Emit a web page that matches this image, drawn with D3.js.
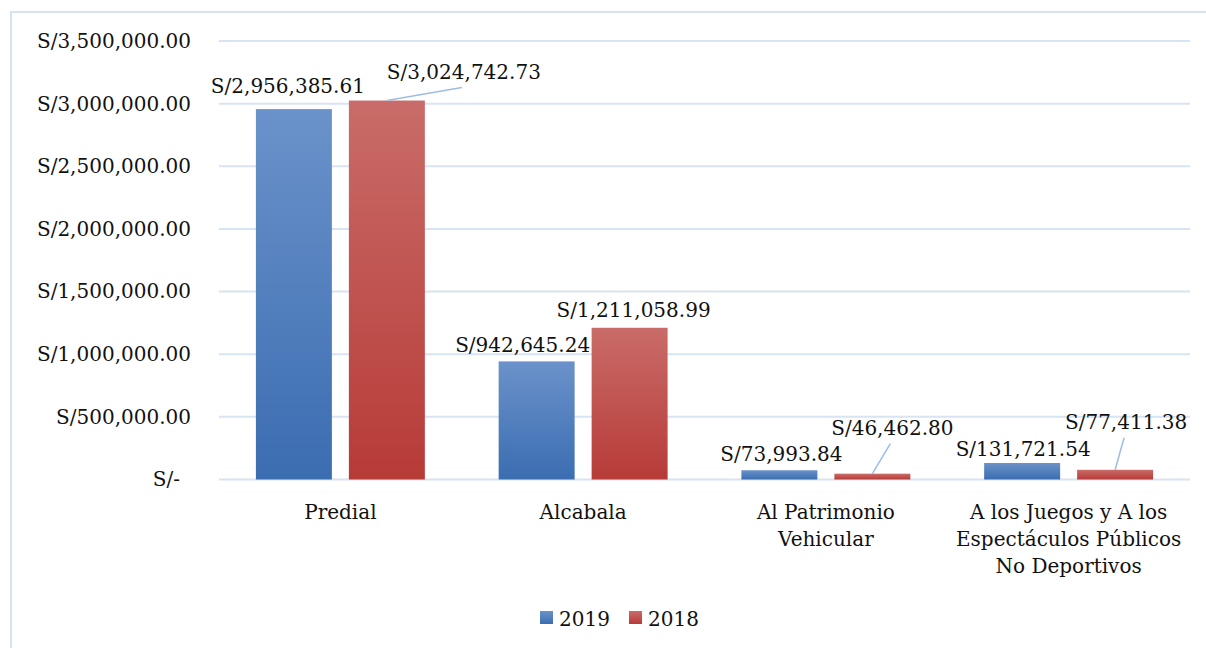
<!DOCTYPE html>
<html>
<head>
<meta charset="utf-8">
<script src="https://cdn.jsdelivr.net/npm/d3@7"></script>
<style>
  body { margin: 0; background: #fff; }
  svg text { font-family: "DejaVu Serif", serif; fill: #111; }
</style>
</head>
<body>
<div id="chart"></div>
<script>
const categories = ['Predial', 'Alcabala', 'Al Patrimonio Vehicular', 'A los Juegos y A los Espectáculos Públicos No Deportivos'];
const categoryLines = [['Predial'], ['Alcabala'], ['Al Patrimonio', 'Vehicular'], ['A los Juegos y A los', 'Espectáculos Públicos', 'No Deportivos']];
const seriesNames = ['2019', '2018'];
const values2019 = [2956385.61, 942645.24, 73993.84, 131721.54];
const values2018 = [3024742.73, 1211058.99, 46462.80, 77411.38];
const yTicks = [0, 500000, 1000000, 1500000, 2000000, 2500000, 3000000, 3500000];

// label nudges (dx, dy) and leader lines, as Excel placed them
const labelNudge = {
    '2019': [[-6, -8], [-14, -1.5], [2, -1], [1, 1]],
    '2018': [[77, -14], [4, -3], [20, -31], [11, -33]]
};
const leader = { '2019': [false, false, false, false], '2018': [true, false, true, true] };

const colors = { '2019': ['#6b92ca', '#3b6db1'], '2018': ['#c96c69', '#b73b37'] };

const W = 1206, H = 648;
const margin = { top: 41, left: 219, right: 16, bottom: 168 };

const svg = d3.select('#chart').append('svg').attr('width', W).attr('height', H);

// outer chart border (only top and left are in frame)
svg.append('rect')
    .attr('x', 11).attr('y', 12).attr('width', 1300).attr('height', 800)
    .attr('fill', 'none').attr('stroke', '#d6e2f1').attr('stroke-width', 2);

const defs = svg.append('defs');
seriesNames.forEach(s => {
    const g = defs.append('linearGradient').attr('id', 'grad' + s)
        .attr('x1', 0).attr('y1', 0).attr('x2', 0).attr('y2', 1);
    g.append('stop').attr('offset', '0%').attr('stop-color', colors[s][0]);
    g.append('stop').attr('offset', '100%').attr('stop-color', colors[s][1]);
});

const x0 = d3.scaleBand().domain(categories).range([margin.left, W - margin.right]).padding(0);
const barW = x0.bandwidth() * 0.313;
const gap = x0.bandwidth() * 0.07;
const x1 = d3.scaleOrdinal().domain(seriesNames).range([-gap / 2 - barW, gap / 2]);

const y = d3.scaleLinear().domain([0, 3500000]).range([H - margin.bottom - 0.5, margin.top]);

const fmt = v => v === 0 ? 'S/-' : 'S/' + d3.format(',.2f')(v);

// gridlines
svg.append('g').selectAll('line').data(yTicks).enter().append('line')
    .attr('x1', margin.left).attr('x2', W - margin.right)
    .attr('y1', d => y(d)).attr('y2', d => y(d))
    .attr('stroke', '#d9e4f2').attr('stroke-width', 2);

// y axis labels
const yAxis = svg.append('g')
    .attr('transform', `translate(${191},0)`)
    .call(d3.axisLeft(y).tickValues(yTicks).tickFormat(fmt).tickSize(0).tickPadding(0));
yAxis.select('.domain').remove();
yAxis.selectAll('text')
    .style('font-family', '"DejaVu Serif", serif')
    .style('font-size', '20px')
    .attr('fill', '#111')
    .attr('dx', d => d === 0 ? -11 : 0);

const data = seriesNames.map(s => ({ name: s, values: s === '2019' ? values2019 : values2018 }));

// bars
data.forEach(ser => {
    svg.append('g').selectAll('rect').data(ser.values).enter().append('rect')
        .attr('x', (d, i) => x0(categories[i]) + x0.bandwidth() / 2 + x1(ser.name))
        .attr('y', d => y(d))
        .attr('width', barW)
        .attr('height', d => y(0) - y(d))
        .attr('fill', `url(#grad${ser.name})`);
});

// data labels
data.forEach(ser => {
    const g = svg.append('g');
    ser.values.forEach((v, i) => {
        const cx = x0(categories[i]) + x0.bandwidth() / 2 + x1(ser.name) + barW / 2;
        const top = y(v);
        const [dx, dy] = labelNudge[ser.name][i];
        const lx = cx + dx, ly = top - 8 + dy;
        if (leader[ser.name][i]) {
            g.append('line')
                .attr('x1', cx).attr('y1', top)
                .attr('x2', lx - 2).attr('y2', ly + 9)
                .attr('stroke', '#9dbde3').attr('stroke-width', 1.5);
        }
        g.append('text')
            .attr('x', lx).attr('y', ly)
            .attr('text-anchor', 'middle')
            .style('font-size', '20px')
            .text(fmt(v));
    });
});

// category labels
const cat = svg.append('g');
categories.forEach((c, i) => {
    const t = cat.append('text')
        .attr('x', x0(c) + x0.bandwidth() / 2)
        .attr('y', 519)
        .attr('text-anchor', 'middle')
        .style('font-size', '20px');
    categoryLines[i].forEach((ln, j) => {
        t.append('tspan').attr('x', x0(c) + x0.bandwidth() / 2).attr('dy', j === 0 ? 0 : 27).text(ln);
    });
});

// legend
const legend = svg.append('g');
const legX = [540, 629];
seriesNames.forEach((s, i) => {
    legend.append('rect')
        .attr('x', legX[i]).attr('y', 611).attr('width', 13).attr('height', 13)
        .attr('fill', `url(#grad${s})`);
    legend.append('text')
        .attr('x', legX[i] + 19).attr('y', 626)
        .style('font-size', '20px')
        .text(s);
});
</script>
</body>
</html>
